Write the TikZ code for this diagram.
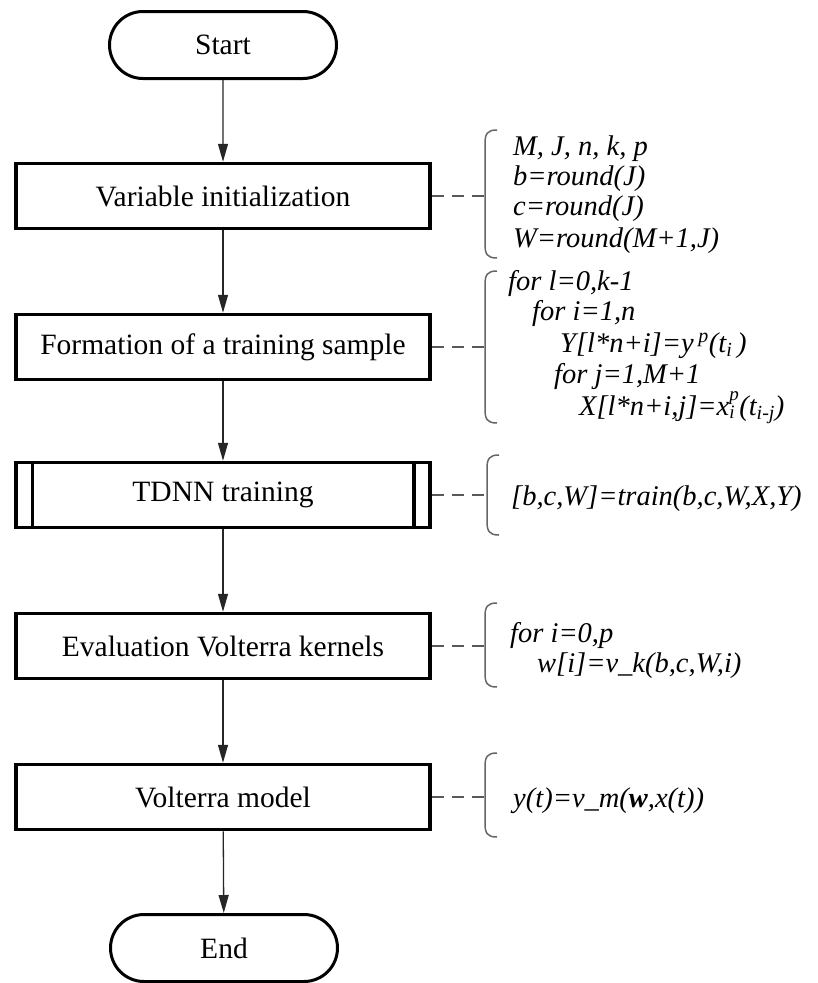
\documentclass[tikz,border=0pt]{standalone}
\usepackage{fontspec}
\setmainfont{Liberation Serif}
\usetikzlibrary{arrows.meta,shapes.misc}

% stacked super- and subscript after a letter
\newcommand\supsubscript[2]{%
  \rlap{\raisebox{0.52em}{\fontsize{19}{19}\selectfont #1}}%
  \raisebox{-0.12em}{\fontsize{19}{19}\selectfont #2}}
% left curly brace used for the side notes: x, top y, bottom y
\newcommand\notebrace[3]{%
  \draw[notebrace] ({#1+12},#2) .. controls ({#1+2},#2) and (#1,{#2+4}) .. (#1,{#2+14})
    -- (#1,{#3-14}) .. controls (#1,{#3-4}) and ({#1+2},#3) .. ({#1+12},#3);}

\tikzset{
  basefont/.style={font=\fontsize{29.5}{31}\selectfont},
  flowbox/.style={draw, line width=3.5pt, minimum width=414pt, minimum height=65pt,
    inner sep=0pt, basefont},
  terminal/.style={draw, rounded rectangle, line width=3pt, minimum width=227pt,
    minimum height=67pt, inner sep=0pt, basefont},
  flow/.style={draw=black!85, line width=1.3pt, -{Triangle[length=18pt,width=10pt]}},
  link/.style={draw=black!65, line width=1.8pt, dash pattern=on 12pt off 8pt},
  notebrace/.style={draw=black!60, line width=1.5pt},
  note/.style={anchor=base west, inner sep=0pt,
    font=\fontsize{28.5}{31}\selectfont\itshape},
}

\begin{document}
\begin{tikzpicture}[x=1pt, y=-1pt]
\useasboundingbox (0,0) rectangle (817,983);

% main flow
\node[terminal] (start) at (223,45) {Start};
\node[flowbox] (b1) at (223,196) {Variable initialization};
\node[flowbox] (b2) at (223,347) {Formation of a training sample};
\node[flowbox] (b3) at (223,495) {TDNN training};
\node[flowbox] (b4) at (223,646) {Evaluation Volterra kernels};
\node[flowbox] (b5) at (223,797) {Volterra model};
\node[terminal] (end) at (224,948) {End};

% predefined-process side bars
\draw[line width=3.5pt] ([xshift=18pt]b3.north west) -- ([xshift=18pt]b3.south west);
\draw[line width=3.5pt] ([xshift=-18pt]b3.north east) -- ([xshift=-18pt]b3.south east);

\draw[flow] (start) -- (b1);
\draw[flow] (b1) -- (b2);
\draw[flow] (b2) -- (b3);
\draw[flow] (b3) -- (b4);
\draw[flow] (b4) -- (b5);
\draw[flow] (b5) -- (end);

% side notes
\notebrace{485}{130}{258}
\coordinate (k1) at (485,196);
\draw[link] (b1.east) -- (k1);
\node[note] (n1a) at (513,155) {M, J, n, k, p};
\node[note] (n1b) at (513,185) {b=round(J)};
\node[note] (n1c) at (513,215) {c=round(J)};
\node[note] (n1d) at (513,247) {W=round(M+1,J)};

\notebrace{485}{271}{423}
\coordinate (k2) at (485,347);
\draw[link] (b2.east) -- (k2);
\node[note] (n2a) at (508,290) {for l=0,k-1};
\node[note] (n2b) at (532,320) {for i=1,n};
\node[note] (n2c) at (560,352) {Y[l*n+i]=y\,\textsuperscript{p}(t\textsubscript{i}\,)};
\node[note] (n2d) at (554,383) {for j=1,M+1};
\node[note] (n2e) at (579,415) {X[l*n+i,j]=x\supsubscript{p}{i}\,(t\textsubscript{i-j})};

\notebrace{487}{455}{535}
\coordinate (k3) at (487,495);
\draw[link] (b3.east) -- (k3);
\node[note] (n3a) at (511,505) {[b,c,W]=train(b,c,W,X,Y)};

\notebrace{485}{603}{687}
\coordinate (k4) at (485,646);
\draw[link] (b4.east) -- (k4);
\node[note] (n4a) at (510,642) {for i=0,p};
\node[note] (n4b) at (537,672) {w[i]=v\_k(b,c,W,i)};

\notebrace{485}{753}{837}
\coordinate (k5) at (485,797);
\draw[link] (b5.east) -- (k5);
\node[note] (n5a) at (513,807) {y(t)=v\_m({\bfseries w},x(t))};
\end{tikzpicture}
\end{document}
